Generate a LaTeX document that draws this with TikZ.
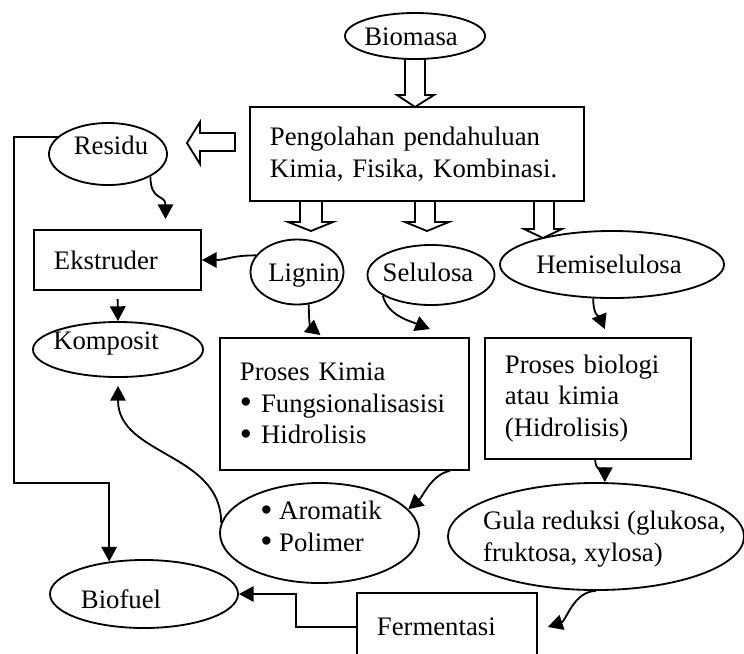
\documentclass[tikz,border=0pt]{standalone}
\usepackage{fontspec}
\setmainfont{Liberation Serif}
\usetikzlibrary{arrows.meta,shapes.geometric}
\newcommand{\blt}{\raisebox{-1pt}{\scalebox{1.3}{\textbullet}}}
\begin{document}
\begin{tikzpicture}[x=0.025cm,y=-0.025cm,font=\fontsize{19}{22.5}\selectfont]
\tikzstyle{arrow}=[-{Triangle[width=11pt,length=10.5pt]}, line width=1.3pt]
\tikzstyle{box}=[draw, line width=1.3pt, align=left, inner xsep=0.5cm, inner ysep=0pt]
\tikzstyle{oval}=[draw, ellipse, line width=1.3pt, inner sep=0pt]
\tikzstyle{hollow}=[line width=1.3pt]
\clip (0,0) rectangle (744,653);

% boxes
\draw node[box, text width=7.35cm, minimum height=2.35cm] (pre) at (417,154) {Pengolahan pendahuluan\\Kimia, Fisika, Kombinasi.};
\draw node[box, text width=3.175cm, minimum height=1.5cm] (ekst) at (117.5,260) {Ekstruder};
\draw node[box, text width=5.225cm, minimum height=3.3cm] (kim) at (344.5,404) {Proses Kimia\\\blt\ Fungsionalisasisi\\\blt\ Hidrolisis};
\draw node[box, text width=4.15cm, minimum height=3.025cm] (pbio) at (588,398.5) {Proses biologi\\atau kimia\\(Hidrolisis)};
\draw node[box, text width=3.5cm, minimum height=1.7cm] (ferm) at (447,627) {Fermentasi};

% ellipses
\draw node[oval, minimum width=3.5cm, minimum height=1.15cm] (bio) at (415,36) {};
\draw node (biotx) at (411,37) {Biomasa};
\draw node[oval, minimum width=2.95cm, minimum height=1.55cm] (res) at (108,154) {};
\draw node (restx) at (111,145) {Residu};
\draw node[oval, minimum width=2.325cm, minimum height=1.625cm] (lig) at (297,272) {};
\draw node (ligtx) at (304,276) {Lignin};
\draw node[oval, minimum width=3.175cm, minimum height=1.5cm] (sel) at (431,275) {};
\draw node (seltx) at (428,272.5) {Selulosa};
\draw node[oval, minimum width=5.6cm, minimum height=1.675cm] (hem) at (612,264.5) {};
\draw node (hemtx) at (609,264) {Hemiselulosa};
\draw node[oval, minimum width=4.25cm, minimum height=1.375cm] (komp) at (118,349.5) {};
\draw node (komptx) at (106,343) {Komposit};
\draw node[oval, minimum width=4.975cm, minimum height=2.5cm] (aro) at (319.5,533) {};
\draw node[align=left] (arotx) at (321,527) {\blt\ Aromatik\\\blt\ Polimer};
\draw node[oval, minimum width=7.4cm, minimum height=2.675cm] (gula) at (596,536.5) {};
\draw node[align=left] (gulatx) at (604.5,539) {Gula reduksi (glukosa,\\fruktosa, xylosa)};
\draw node[oval, minimum width=4.7cm, minimum height=1.7cm] (fuel) at (144,594) {};
\draw node (fueltx) at (121,599) {Biofuel};

% block arrows
\draw[hollow] (405,59) -- (405,95) -- (397,95) -- (415,107) -- (434,95) -- (425,95) -- (425,59);
\draw[hollow] (235,133) -- (200,133) -- (200,122) -- (187,143) -- (200,164) -- (200,151) -- (235,151) -- cycle;
\draw[hollow] (300,201) -- (300,222) -- (288,222) -- (311,231) -- (333,222) -- (322,222) -- (322,201);
\draw[hollow] (415,201) -- (415,222) -- (405,222) -- (427,231) -- (449,222) -- (435,222) -- (435,201);
\draw[hollow] (534,201) -- (534,229) -- (524,229) -- (543,238) -- (562,229) -- (554,229) -- (554,201);

% connectors
\draw[arrow] (res.-28) .. controls +(0,25) and +(0,-25) .. ([xshift=1.2cm,yshift=0.25cm]ekst.north);
\draw[arrow] (lig.158) .. controls +(-25,0) and +(25,0) .. (ekst.east);
\draw[arrow] (lig.-70) .. controls +(0,18) and +(-10,-8) .. ([xshift=-0.6cm,yshift=0.05cm]kim.north);
\draw[arrow] (sel.203) .. controls +(5,20) and +(-20,-8) .. ([xshift=-1cm,yshift=0.2cm]kim.north east);
\draw[arrow] (hem.241) .. controls +(0,18) and +(-5,-12) .. ([xshift=0.42cm,yshift=0.2cm]pbio.north);
\draw[arrow] ([xshift=-0.5cm]kim.south east) .. controls +(-18,3) and +(14,-12) .. (aro.15);
\draw[arrow] (aro.174) .. controls +(0,-70) and +(0,70) .. ([yshift=-0.2cm]komp.south);
\draw[arrow] ([xshift=0.18cm]pbio.south) .. controls +(0,12) and +(0,-12) .. ([xshift=0.22cm]gula.north);
\draw[arrow] (gula.south) .. controls +(-22,0) and +(18,-6) .. ([xshift=0.25cm]ferm.east);
\draw[arrow, shorten <=0.2cm] (ekst.south) -- (komp.north);
\coordinate (turn) at (14,483);
\draw[arrow] (res.161) -| (turn) -| (fuel.137);
\draw[arrow] (ferm.west) -- ++(-60,0) |- (fuel.east);

\end{tikzpicture}
\end{document}
